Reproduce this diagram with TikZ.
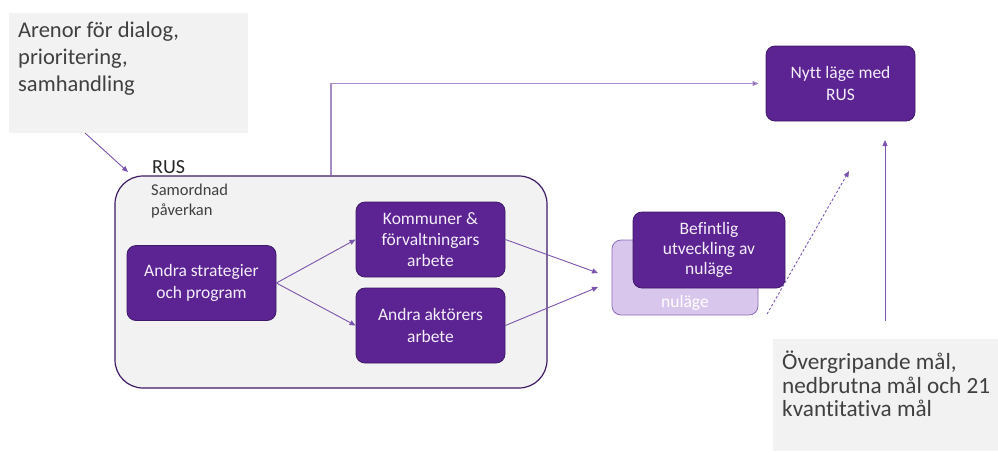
\documentclass[tikz,border=0pt]{standalone}
\usepackage{fontspec}
\setmainfont[Ligatures=NoCommon]{Carlito}
\usetikzlibrary{arrows.meta}
\definecolor{purp}{HTML}{5C2393}
\definecolor{purpdark}{HTML}{3F1A66}
\definecolor{bglight}{HTML}{F2F2F2}
\definecolor{lav}{HTML}{D8C6EC}
\definecolor{lavborder}{HTML}{8E6BBA}
\definecolor{arrowc}{HTML}{7B55AD}
\definecolor{linec}{HTML}{A68CC6}
\definecolor{txtgray}{HTML}{404040}
\definecolor{boxtxt}{HTML}{F4EEFA}
\begin{document}
\begin{tikzpicture}[x=1pt,y=-1pt,
  pbox/.style={rounded corners=9pt, fill=purp, draw=purpdark, line width=0.8pt,
    text=boxtxt, align=center, inner sep=0pt, minimum width=149pt, minimum height=75pt,
    font=\fontsize{17.5}{21.5}\selectfont},
  graybox/.style={fill=bglight, draw=none, inner sep=0pt, anchor=north west},
  bigtext/.style={text=txtgray, align=left, inner sep=0pt, anchor=north west},
  conn/.style={draw=arrowc, line width=0.9pt, -{Triangle[length=6pt,width=5pt]}}]
\useasboundingbox (0,0) rectangle (998,451);

% top-left gray box
\node[graybox, minimum width=239pt, minimum height=120pt] (arenorbox) at (9,13) {};
\node[bigtext, font=\fontsize{22.5}{27}\selectfont] (arenor) at (18,22)
  {Arenor för dialog,\\prioritering,\\samhandling};

% bottom-right gray box
\node[graybox, minimum width=225pt, minimum height=112pt] (overbox) at (773,339) {};
\node[bigtext, font=\fontsize{23.2}{23.5}\selectfont] (over) at (782,351)
  {Övergripande mål,\\nedbrutna mål och 21\\kvantitativa mål};

% big RUS container
\node[rounded corners=28pt, fill=bglight, draw=purpdark, line width=1.2pt,
  minimum width=432pt, minimum height=212pt, inner sep=0pt] (rus) at (331,282) {};
\node[anchor=base west, inner sep=0pt, text=black!85, font=\fontsize{20}{24}\selectfont] (ruslbl) at (152,173) {RUS};
\node[bigtext, font=\fontsize{16.5}{20}\selectfont] (samord) at (151,184) {Samordnad\\påverkan};

% purple boxes
\node[pbox] (strat) at (201.5,283) {Andra strategier\\och program};
\node[pbox, font=\fontsize{17.5}{21}\selectfont] (kom) at (430.5,239.5) {Kommuner \&\\förvaltningars\\arbete};
\node[pbox] (akt) at (430.5,325.5) {Andra aktörers\\arbete};

% stacked boxes
\node[rounded corners=9pt, fill=lav, draw=lavborder, line width=0.8pt,
  minimum width=146pt, minimum height=75pt, inner sep=0pt,
  label={[anchor=south, inner sep=0pt, yshift=5pt, text=white, font=\fontsize{17.5}{21}\selectfont]south:nuläge}]
  (nul) at (685,277.5) {};
\node[pbox, minimum width=152pt, minimum height=76pt, font=\fontsize{17.5}{20}\selectfont] (bef) at (709,250)
  {Befintlig\\utveckling av\\nuläge};

% new state
\node[pbox] (nytt) at (840.5,83.5) {Nytt läge med\\RUS};

% coordinates for free ends
\coordinate (arenorout) at (85,133);
\coordinate (rusin) at (128,172);
\coordinate (t1) at (598,273);
\coordinate (t2) at (598,287);
\coordinate (dstart) at (767,314);
\coordinate (dend) at (849,171);
\coordinate (gstart) at (885,321);
\coordinate (gend) at (885,140);

% connectors
\draw[conn] (arenorout) -- (rusin);
\draw[conn] (strat.east) -- (kom.west);
\draw[conn] (strat.east) -- (akt.west);
\draw[conn] (kom.east) -- (t1);
\draw[conn] (akt.east) -- (t2);
\draw[conn, dash pattern=on 2.5pt off 2pt] (dstart) -- (dend);
\draw[conn] (gstart) -- (gend);
\draw[draw=linec, line width=1.1pt, -{Triangle[length=6pt,width=5pt,fill=arrowc]}, shorten >=7pt]
  (rus.north) |- (nytt.west);
\end{tikzpicture}
\end{document}
